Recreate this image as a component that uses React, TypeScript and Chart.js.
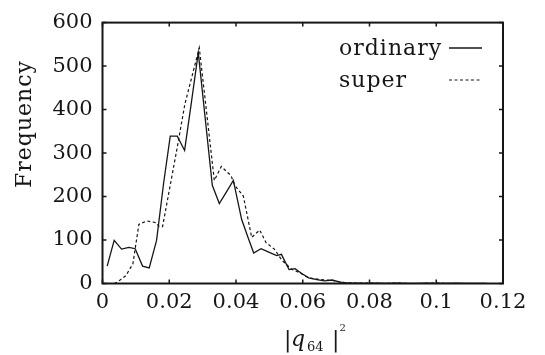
import React, { useEffect, useRef } from 'react';
import { Chart, registerables } from 'chart.js';

Chart.register(...registerables);

// Data
const ordinaryX = [0.0014, 0.0035, 0.0057, 0.0079, 0.0098, 0.0120, 0.0140, 0.0162, 0.0183, 0.0203, 0.0224, 0.0246, 0.0267, 0.0287, 0.0308, 0.0329, 0.0350, 0.0371, 0.0392, 0.0417, 0.0435, 0.0453, 0.0475, 0.0498, 0.0522, 0.0536, 0.0559, 0.0577, 0.0597, 0.0618, 0.0642, 0.0665, 0.0688, 0.0712, 0.0737, 0.0760, 0.0790, 0.0820, 0.0850, 0.0880, 0.0910, 0.0940, 0.0970, 0.1000, 0.1030, 0.1060, 0.1090, 0.1120, 0.1150];
const ordinaryY = [40, 99, 79, 83, 80, 40, 36, 99, 230, 339, 339, 306, 420, 531, 378, 226, 184, 210, 237, 147, 108, 70, 80, 72, 64, 67, 32, 34, 23, 13, 9, 6, 8, 3, 1, 1, 0, 1, 0, 1, 0, 0, 1, 0, 0, 1, 0, 0, 0];

const superX = [0.0035, 0.0046, 0.0070, 0.0091, 0.0109, 0.0133, 0.0160, 0.0170, 0.0180, 0.0222, 0.0247, 0.0290, 0.0335, 0.0356, 0.0385, 0.0397, 0.0422, 0.0447, 0.0471, 0.0490, 0.0515, 0.0537, 0.0566, 0.0590, 0.0617, 0.0654, 0.0689, 0.0724, 0.0760, 0.0800, 0.0840, 0.0880, 0.0920, 0.0960, 0.1000, 0.1040, 0.1080, 0.1120];
const superY = [0, 4, 18, 45, 136, 144, 140, 131, 131, 305, 413, 542, 237, 269, 248, 225, 201, 106, 123, 94, 79, 54, 33, 25, 13, 9, 7, 2, 1, 1, 0, 1, 0, 0, 1, 0, 0, 0];

const xTickValues = [0, 0.02, 0.04, 0.06, 0.08, 0.1, 0.12];
const xTickLabels = ['0', '0.02', '0.04', '0.06', '0.08', '0.1', '0.12'];
const yTickValues = [0, 100, 200, 300, 400, 500, 600];
const yTickLabels = ['0', '100', '200', '300', '400', '500', '600'];

const seriesNames = ['ordinary', 'super'];
const yTitle = 'Frequency';

const INK = '#161616';
const FONT = '"DejaVu Serif", serif';

const framePlugin = {
  id: 'frameAndText',
  afterDatasetsDraw(chart: any) {
    const ctx = chart.ctx as CanvasRenderingContext2D;
    const { left, right, top, bottom } = chart.chartArea;
    const xs = chart.scales.x;
    const ys = chart.scales.y;
    ctx.save();
    ctx.strokeStyle = INK;
    ctx.lineWidth = 2;
    ctx.strokeRect(left, top, right - left, bottom - top);
    // inward ticks on all four sides
    ctx.lineWidth = 1.5;
    const tl = 4;
    ctx.beginPath();
    xTickValues.forEach((v) => {
      const px = xs.getPixelForValue(v);
      ctx.moveTo(px, bottom);
      ctx.lineTo(px, bottom - tl);
      ctx.moveTo(px, top);
      ctx.lineTo(px, top + tl);
    });
    yTickValues.forEach((v) => {
      const py = ys.getPixelForValue(v);
      ctx.moveTo(left, py);
      ctx.lineTo(left + tl, py);
      ctx.moveTo(right, py);
      ctx.lineTo(right - tl, py);
    });
    ctx.stroke();

    // legend
    ctx.fillStyle = INK;
    ctx.font = `22px ${FONT}`;
    (ctx as any).letterSpacing = '1px';
    ctx.textAlign = 'left';
    ctx.textBaseline = 'alphabetic';
    const legendX = 339;
    const rows = [55, 87];
    seriesNames.forEach((name, i) => {
      ctx.fillText(name, legendX, rows[i]);
    });
    (ctx as any).letterSpacing = '0px';
    ctx.lineWidth = 1.3;
    ctx.beginPath();
    ctx.moveTo(449, 48);
    ctx.lineTo(482, 48);
    ctx.stroke();
    ctx.lineWidth = 1.2;
    ctx.setLineDash([3, 2.5]);
    ctx.beginPath();
    ctx.moveTo(449, 80);
    ctx.lineTo(482, 80);
    ctx.stroke();
    ctx.setLineDash([]);

    // y title
    ctx.save();
    ctx.translate(31, 124);
    ctx.rotate(-Math.PI / 2);
    ctx.font = `22px ${FONT}`;
    (ctx as any).letterSpacing = '1px';
    ctx.textAlign = 'center';
    ctx.fillText(yTitle, 0, 0);
    (ctx as any).letterSpacing = '0px';
    ctx.restore();

    // x title |q_64 |^2
    ctx.textAlign = 'left';
    ctx.font = `22px ${FONT}`;
    ctx.fillText('|', 284, 347);
    ctx.font = `italic 22px ${FONT}`;
    ctx.fillText('q', 291, 346);
    ctx.font = `13px ${FONT}`;
    ctx.fillText('64', 307, 351);
    ctx.font = `22px ${FONT}`;
    ctx.fillText('|', 332, 347);
    ctx.font = `10px ${FONT}`;
    ctx.fillText('2', 339.5, 331);
    ctx.restore();
  },
};

export default function App() {
  const canvasRef = useRef<HTMLCanvasElement | null>(null);

  useEffect(() => {
    const canvas = canvasRef.current;
    if (!canvas) return;
    const chart = new Chart(canvas, {
      type: 'line',
      data: {
        datasets: [
          {
            label: seriesNames[0],
            data: ordinaryX.map((x, i) => ({ x, y: ordinaryY[i] })),
            borderColor: INK,
            borderWidth: 1.3,
            pointRadius: 0,
            tension: 0,
            fill: false,
          },
          {
            label: seriesNames[1],
            data: superX.map((x, i) => ({ x, y: superY[i] })),
            borderColor: INK,
            borderWidth: 1.2,
            borderDash: [3, 2.5],
            pointRadius: 0,
            tension: 0,
            fill: false,
          },
        ],
      },
      options: {
        responsive: false,
        maintainAspectRatio: false,
        animation: false,
        events: [],
        layout: { autoPadding: false, padding: { left: 0, top: 12, right: 42, bottom: 0 } },
        plugins: { legend: { display: false }, tooltip: { enabled: false }, title: { display: false } },
        scales: {
          x: {
            type: 'linear',
            min: 0,
            max: 0.12,
            grid: { display: false, drawTicks: false },
            border: { display: false },
            afterBuildTicks: (s: any) => {
              s.ticks = xTickValues.map((v) => ({ value: v }));
            },
            afterFit: (s: any) => {
              s.height = 71.5;
            },
            ticks: {
              autoSkip: false,
              maxRotation: 0,
              padding: 6,
              color: INK,
              font: { family: FONT, size: 21 },
              callback: (_v: any, i: number) => xTickLabels[i],
            },
          },
          y: {
            type: 'linear',
            min: 0,
            max: 600,
            grid: { display: false, drawTicks: false },
            border: { display: false },
            afterBuildTicks: (s: any) => {
              s.ticks = yTickValues.map((v) => ({ value: v }));
            },
            afterFit: (s: any) => {
              s.width = 102.5;
            },
            ticks: {
              autoSkip: false,
              padding: 10,
              color: INK,
              font: { family: FONT, size: 21 },
              callback: (_v: any, i: number) => yTickLabels[i],
            },
          },
        },
      },
      plugins: [framePlugin],
    });
    return () => chart.destroy();
  }, []);

  return (
    <div style={{ position: 'fixed', left: 0, top: 0, width: 545, height: 355, background: '#fff' }}>
      <canvas ref={canvasRef} width={545} height={355} style={{ display: 'block' }} />
    </div>
  );
}
